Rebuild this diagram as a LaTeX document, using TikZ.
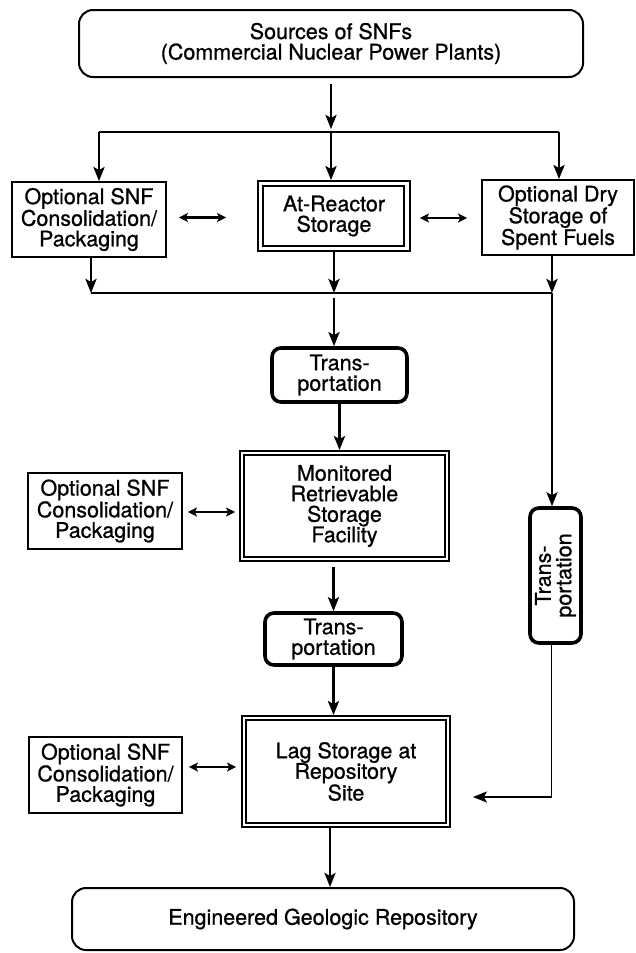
\documentclass[tikz,border=0pt]{standalone}
\usepackage{fontspec}
\setmainfont[FakeBold=0.8]{TeX Gyre Heros}
\usetikzlibrary{arrows.meta,calc}
\begin{document}
\begin{tikzpicture}[x=1pt,y=1pt,
  every node/.style={font=\fontsize{21.5}{20.5}\selectfont, align=center, inner sep=0pt},
  plain/.style={draw, line width=1.8pt, rectangle},
  roundbox/.style={draw, line width=2pt, rounded corners=14pt},
  trans/.style={draw, line width=3.6pt, rounded corners=9pt},
  innerbox/.style={line width=1.4pt},
  arr/.style={line width=2.8pt, -{Stealth[length=14pt,width=11pt,inset=3pt]}},
  thinarr/.style={line width=2pt, -{Stealth[length=14pt,width=11pt,inset=3pt]}},
  thinnerarr/.style={line width=1.6pt, -{Stealth[length=14pt,width=11pt,inset=3pt]}},
  dbl/.style={line width=2.2pt, {Stealth[length=9pt,width=9pt,inset=2pt]}-{Stealth[length=9pt,width=9pt,inset=2pt]}},
  ln/.style={line width=2.8pt}
]
\fill[white] (0,0) rectangle (635,-953);
\useasboundingbox (0,0) rectangle (635,-953);

% nodes
\node[roundbox, minimum width=504, minimum height=67] (src) at (331,-43.5) {Sources of SNFs\\(Commercial Nuclear Power Plants)};
\node[plain, minimum width=154, minimum height=75] (c1) at (89,-219.5) {Optional SNF\\Consolidation/\\Packaging};
\node[plain, minimum width=152, minimum height=70] (ar) at (334,-216) {At-Reactor\\Storage};
\node[plain, minimum width=152, minimum height=75] (dry) at (558,-217.5) {Optional Dry\\Storage of\\Spent Fuels};
\node[trans, minimum width=135, minimum height=54] (t1) at (339.5,-375) {Trans-\\portation};
\node[plain, minimum width=209, minimum height=110] (mrs) at (344.5,-506) {Monitored\\Retrievable\\Storage\\Facility};
\node[plain, minimum width=154, minimum height=76] (c2) at (105,-511) {Optional SNF\\Consolidation/\\Packaging};
\node[trans, rotate=90, minimum width=135, minimum height=51] (t3) at (555.5,-575.5) {Trans-\\portation};
\node[trans, minimum width=137, minimum height=52] (t2) at (333.5,-639) {Trans-\\portation};
\node[plain, minimum width=208, minimum height=111] (lag) at (346,-771.5) {Lag Storage at\\Repository\\Site};
\node[plain, minimum width=153, minimum height=76] (c3) at (105.5,-775) {Optional SNF\\Consolidation/\\Packaging};
\node[roundbox, minimum width=502, minimum height=62] (geo) at (323,-919) {Engineered Geologic Repository};

% inner lines of double boxes
\draw[innerbox] ([shift={(6,-6)}]ar.north west) rectangle ([shift={(-7,6)}]ar.south east);
\draw[innerbox] ([shift={(5,-5)}]mrs.north west) rectangle ([shift={(-5,5)}]mrs.south east);
\draw[innerbox] ([shift={(5,-5)}]lag.north west) rectangle ([shift={(-5,5)}]lag.south east);

% junction coordinates
\coordinate (j0) at (331,-132);
\coordinate (jl) at (99,-132);
\coordinate (jr) at (559,-132);
\coordinate (k0) at (334,-293);
\coordinate (kl) at (91,-293);
\coordinate (kr) at (552,-293);
\coordinate (lagin) at ($(lag.east)+(22,-25.5)$);

% top distribution
\draw[arr] ([yshift=-6pt]src.south) -- ([yshift=3pt]j0);
\draw[ln] (jl) -- (jr);
\draw[arr] (jl) -- (jl |- c1.north);
\draw[arr] (j0) -- (j0 |- ar.north);
\draw[arr] (jr) -- (jr |- dry.north);

% exchange arrows top row
\draw[dbl] ([xshift=12pt,yshift=2pt]c1.east) -- ([xshift=-31pt,yshift=2pt]c1.east -| ar.west);
\draw[dbl] ([xshift=9pt,yshift=-2pt]ar.east) -- ([xshift=-14pt,yshift=-2pt]ar.east -| dry.west);

% collection
\draw[arr] (kl |- c1.south) -- (kl);
\draw[arr] (ar.south) -- (k0);
\draw[arr] (kr |- dry.south) -- (kr);
\draw[ln] (kl) -- (kr);

% center chain
\draw[arr] ([yshift=-5pt]k0) -- (k0 |- t1.north);
\draw[arr] (t1.south) -- (t1.south |- mrs.north);
\draw[arr] ([yshift=-5pt]mrs.south -| t2.north) -- (t2.north);
\draw[arr] (t2.south) -- (t2.south |- lag.north);
\draw[arr] ([xshift=-16pt]lag.south) -- ([xshift=-16pt]lag.south |- geo.north);

% right branch
\draw[thinarr] (kr) -- (kr |- t3.east);
\draw[thinnerarr] ([xshift=-4pt]t3.west) |- (lagin);

% side exchange arrows
\draw[dbl] ([xshift=5pt,yshift=-1pt]c2.east) -- ([xshift=-4pt,yshift=-1pt]c2.east -| mrs.west);
\draw[dbl] ([xshift=6pt,yshift=8pt]c3.east) -- ([xshift=-5pt,yshift=8pt]c3.east -| lag.west);
\end{tikzpicture}
\end{document}
